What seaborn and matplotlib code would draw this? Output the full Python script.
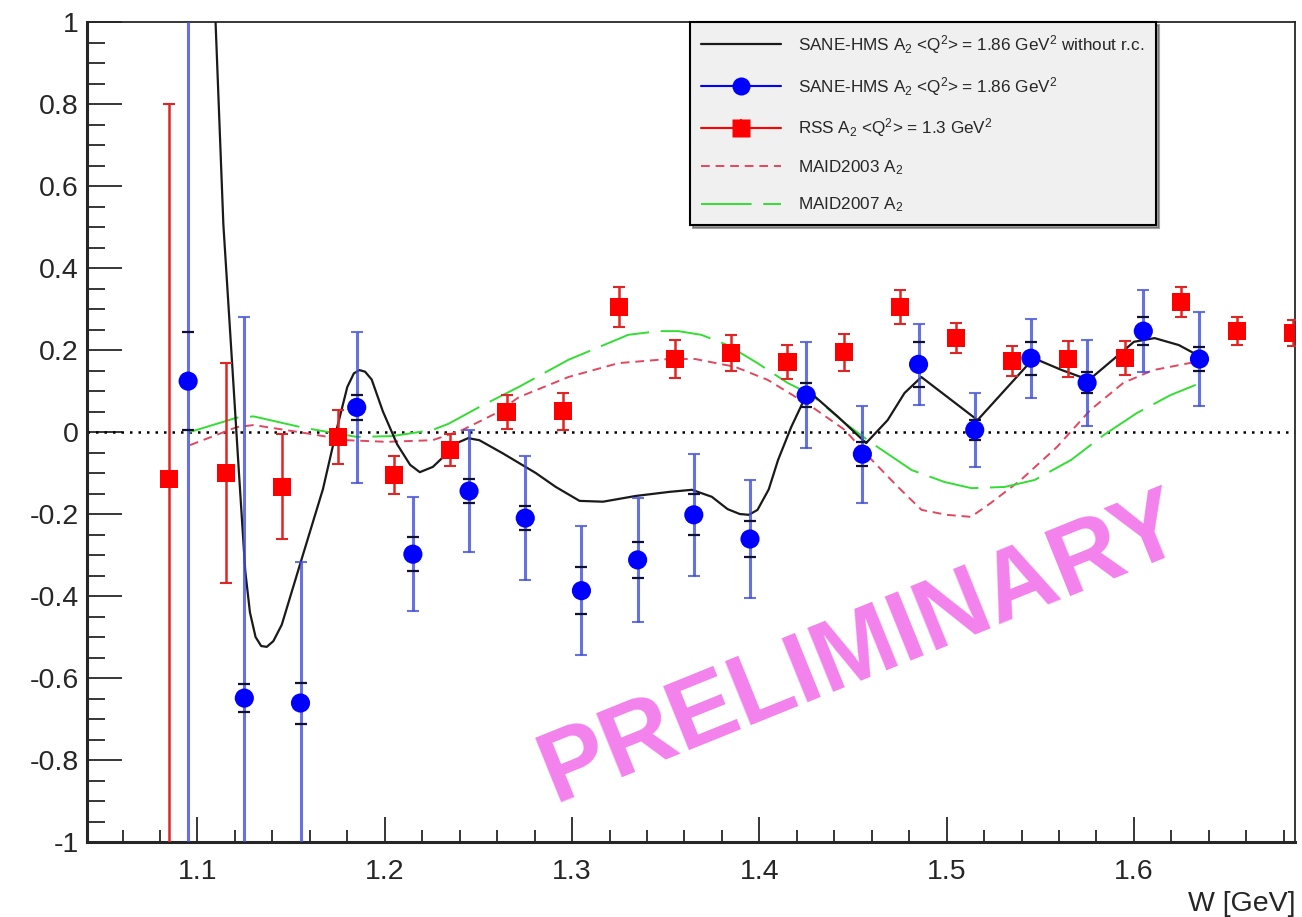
import numpy as np
import seaborn as sns
import matplotlib.pyplot as plt
from matplotlib.lines import Line2D
from matplotlib.ticker import MultipleLocator

sns.set_style("ticks")
plt.rcParams['font.family'] = ['Liberation Sans', 'DejaVu Sans']
plt.rcParams['mathtext.default'] = 'regular'

# SANE-HMS A2 points (blue), total and stat errors
w_sane = [1.095, 1.125, 1.155, 1.185, 1.215, 1.245, 1.275, 1.305, 1.335, 1.365,
          1.395, 1.425, 1.455, 1.485, 1.515, 1.545, 1.575, 1.605, 1.635]
a2_sane = [0.124, -0.649, -0.661, 0.06, -0.298, -0.144, -0.21, -0.387, -0.312, -0.202,
           -0.261, 0.09, -0.054, 0.165, 0.005, 0.18, 0.12, 0.246, 0.178]
err_sane_tot = [1.5, 0.93, 0.344, 0.185, 0.139, 0.148, 0.152, 0.157, 0.151, 0.148,
                0.144, 0.13, 0.118, 0.098, 0.09, 0.096, 0.105, 0.10, 0.115]
err_sane_stat = [0.12, 0.035, 0.05, 0.03, 0.042, 0.03, 0.03, 0.058, 0.044, 0.05,
                 0.045, 0.03, 0.03, 0.055, 0.025, 0.04, 0.026, 0.035, 0.03]

# RSS A2 points (red)
w_rss = [1.085, 1.115, 1.145, 1.175, 1.205, 1.235, 1.265, 1.295, 1.325, 1.355, 1.385,
         1.415, 1.445, 1.475, 1.505, 1.535, 1.565, 1.595, 1.625, 1.655, 1.685]
a2_rss = [-0.115, -0.1, -0.134, -0.012, -0.105, -0.044, 0.049, 0.051, 0.305, 0.178, 0.193,
          0.171, 0.195, 0.305, 0.229, 0.173, 0.178, 0.18, 0.317, 0.246, 0.241]
err_rss = [0.915, 0.268, 0.128, 0.065, 0.047, 0.038, 0.042, 0.045, 0.048, 0.046, 0.044,
           0.042, 0.045, 0.042, 0.037, 0.037, 0.044, 0.042, 0.037, 0.035, 0.032]

# SANE-HMS without radiative corrections (black curve)
w_norc = [1.105, 1.1096, 1.1138, 1.1186, 1.122, 1.1255, 1.128, 1.131, 1.134, 1.137,
          1.1405, 1.145, 1.155, 1.167, 1.1745, 1.18, 1.1835, 1.1865, 1.1895, 1.193,
          1.199, 1.2066, 1.2135, 1.2187, 1.2257, 1.2337, 1.2395, 1.2445, 1.2505, 1.263,
          1.2806, 1.2913, 1.304, 1.3165, 1.334, 1.352, 1.364, 1.3746, 1.383, 1.3895,
          1.3944, 1.399, 1.405, 1.41, 1.417, 1.423, 1.428, 1.442, 1.457, 1.4685,
          1.4775, 1.4865, 1.5005, 1.5165, 1.531, 1.5465, 1.5615, 1.576, 1.5905, 1.6,
          1.611, 1.624, 1.637]
a2_norc = [1.55, 1.005, 0.507, 0.159, -0.09, -0.339, -0.44, -0.5, -0.522, -0.524,
           -0.51, -0.47, -0.319, -0.139, 0.01, 0.11, 0.143, 0.151, 0.147, 0.128,
           0.05, -0.03, -0.08, -0.098, -0.085, -0.05, -0.025, -0.015, -0.02, -0.052,
           -0.1, -0.134, -0.168, -0.17, -0.156, -0.146, -0.141, -0.158, -0.188, -0.2,
           -0.202, -0.19, -0.14, -0.068, 0.012, 0.07, 0.093, 0.037, -0.027, 0.029,
           0.095, 0.134, 0.085, 0.029, 0.102, 0.18, 0.151, 0.127, 0.183, 0.22,
           0.229, 0.212, 0.18]

# MAID2003 A2 (red short dash)
w_maid03 = [1.096, 1.121, 1.13, 1.158, 1.18, 1.201, 1.2255, 1.2415, 1.2595, 1.2716,
            1.298, 1.3248, 1.3513, 1.3657, 1.387, 1.4045, 1.4285, 1.4456, 1.46, 1.474,
            1.4866, 1.5, 1.513, 1.5236, 1.5396, 1.5588, 1.5768, 1.5944, 1.6103, 1.633]
a2_maid03 = [-0.032, 0.012, 0.017, -0.003, -0.02, -0.024, -0.02, 0.005, 0.046, 0.085,
             0.134, 0.168, 0.178, 0.178, 0.159, 0.127, 0.06, 0.005, -0.068, -0.134,
             -0.19, -0.202, -0.207, -0.173, -0.117, -0.037, 0.054, 0.12, 0.151, 0.171]

# MAID2007 A2 (green long dash)
w_maid07 = [1.096, 1.121, 1.13, 1.156, 1.185, 1.204, 1.2255, 1.234, 1.2505, 1.2716,
            1.298, 1.33, 1.346, 1.3567, 1.369, 1.383, 1.399, 1.415, 1.428, 1.4456,
            1.46, 1.4814, 1.4989, 1.5133, 1.531, 1.547, 1.5665, 1.584, 1.6015, 1.6195,
            1.633]
a2_maid07 = [0.0, 0.035, 0.038, 0.011, -0.012, -0.01, 0.005, 0.02, 0.061, 0.11,
             0.176, 0.237, 0.246, 0.246, 0.237, 0.212, 0.168, 0.12, 0.09, 0.022,
             -0.027, -0.093, -0.122, -0.137, -0.134, -0.117, -0.068, -0.007, 0.046, 0.09,
             0.115]

y_ticks = [-1, -0.8, -0.6, -0.4, -0.2, 0, 0.2, 0.4, 0.6, 0.8, 1]
y_tick_labels = ["-1", "-0.8", "-0.6", "-0.4", "-0.2", "0", "0.2", "0.4", "0.6", "0.8", "1"]
x_ticks = [1.1, 1.2, 1.3, 1.4, 1.5, 1.6]
x_tick_labels = ["1.1", "1.2", "1.3", "1.4", "1.5", "1.6"]

fig = plt.figure(figsize=(13.02, 9.17), dpi=100)
ax = fig.add_axes([87 / 1302, 1 - 842 / 917, 1208 / 1302, 820 / 917])

blue = "#0000ff"
red = "#ff0000"
c03 = "#e2475f"
c07 = "#33dd33"

# zero line
ax.axhline(0, color="black", lw=1.8, ls=(0, (1, 2.4)), zorder=1)

# models
sns.lineplot(x=w_maid03, y=a2_maid03, ax=ax, color=c03, lw=1.4,
             linestyle=(0, (4.5, 3)), sort=False, estimator=None, zorder=2)
sns.lineplot(x=w_maid07, y=a2_maid07, ax=ax, color=c07, lw=1.4,
             linestyle=(0, (26, 6)), sort=False, estimator=None, zorder=2)
sns.lineplot(x=w_norc, y=a2_norc, ax=ax, color="#1a1a1a", lw=1.6,
             sort=False, estimator=None, zorder=3)

# RSS
ax.errorbar(w_rss, a2_rss, yerr=err_rss, fmt="none", ecolor="#e02525",
            elinewidth=1.8, capsize=4, capthick=1.5, zorder=4)
sns.scatterplot(x=w_rss, y=a2_rss, ax=ax, marker="s", s=170, color=red,
                edgecolor="none", zorder=5)

# SANE-HMS
ax.errorbar(w_sane, a2_sane, yerr=err_sane_tot, fmt="none", ecolor="#3f4fd8",
            elinewidth=2.2, capsize=4, capthick=1.5, alpha=0.8, zorder=4)
ax.errorbar(w_sane, a2_sane, yerr=err_sane_stat, fmt="none", ecolor="#101030",
            elinewidth=0, capsize=4, capthick=1.6, zorder=4)
sns.scatterplot(x=w_sane, y=a2_sane, ax=ax, marker="o", s=190, color=blue,
                edgecolor="none", zorder=6)

ax.set_xlim(1.041, 1.686)
ax.set_ylim(-1, 1)
ax.set_xticks(x_ticks)
ax.set_xticklabels(x_tick_labels)
ax.set_yticks(y_ticks)
ax.set_yticklabels(y_tick_labels)
ax.xaxis.set_minor_locator(MultipleLocator(0.02))
ax.yaxis.set_minor_locator(MultipleLocator(0.05))
ax.tick_params(axis="x", which="major", direction="in", length=18, width=1.3,
               labelsize=20.5, pad=12, top=False)
ax.tick_params(axis="x", which="minor", direction="in", length=9, width=1.3, top=False)
ax.tick_params(axis="y", which="major", direction="in", length=25, width=1.3,
               labelsize=20.5, pad=6, right=False)
ax.tick_params(axis="y", which="minor", direction="in", length=13, width=1.3, right=False)
for side in ["left", "bottom"]:
    ax.spines[side].set_linewidth(2.2)
for side in ["top", "right"]:
    ax.spines[side].set_linewidth(1.3)
ax.set_xlabel("")
ax.set_ylabel("")
fig.text(1295 / 1302, 1 - 904 / 917, "W [GeV]", ha="right", va="center", fontsize=20.5)

# legend
h_norc = Line2D([], [], color="#1a1a1a", lw=1.6)
h_sane = ax.errorbar([np.nan], [np.nan], yerr=[0.1], fmt="-o", color=blue, ms=13,
                     ecolor="#3f4fd8", elinewidth=1.5, lw=1.5, mec="none")
h_rss = ax.errorbar([np.nan], [np.nan], yerr=[0.1], fmt="-s", color=red, ms=13,
                    ecolor="#e02525", elinewidth=1.5, lw=1.5, mec="none")
h_03 = Line2D([], [], color=c03, lw=1.4, ls=(0, (4.5, 3)))
h_07 = Line2D([], [], color=c07, lw=1.4, ls=(0, (26, 6)))
labels = [
    r"SANE-HMS A$_{2}$ <Q$^{2}$> = 1.86 GeV$^{2}$ without r.c.",
    r"SANE-HMS A$_{2}$ <Q$^{2}$> = 1.86 GeV$^{2}$",
    r"RSS A$_{2}$ <Q$^{2}$> = 1.3 GeV$^{2}$",
    r"MAID2003 A$_{2}$",
    r"MAID2007 A$_{2}$",
]
leg = ax.legend([h_norc, h_sane, h_rss, h_03, h_07], labels, loc="upper left",
                bbox_to_anchor=(0.499, 1.0), borderaxespad=0, fontsize=12.3,
                frameon=True, fancybox=False, shadow=True, edgecolor="black",
                facecolor="#f0f0f0", framealpha=1, handlelength=4.7,
                handletextpad=1.0, labelspacing=1.1, borderpad=0.65)
leg.get_frame().set_linewidth(1.5)
leg.set_zorder(10)

# watermark
ax.text(862 / 1302, 1 - 650 / 917, "PRELIMINARY", transform=fig.transFigure,
        fontsize=72, fontweight="bold", color="#f382ec", rotation=22,
        ha="center", va="center", rotation_mode="anchor", zorder=11)

fig.savefig("out.png", dpi=100)
